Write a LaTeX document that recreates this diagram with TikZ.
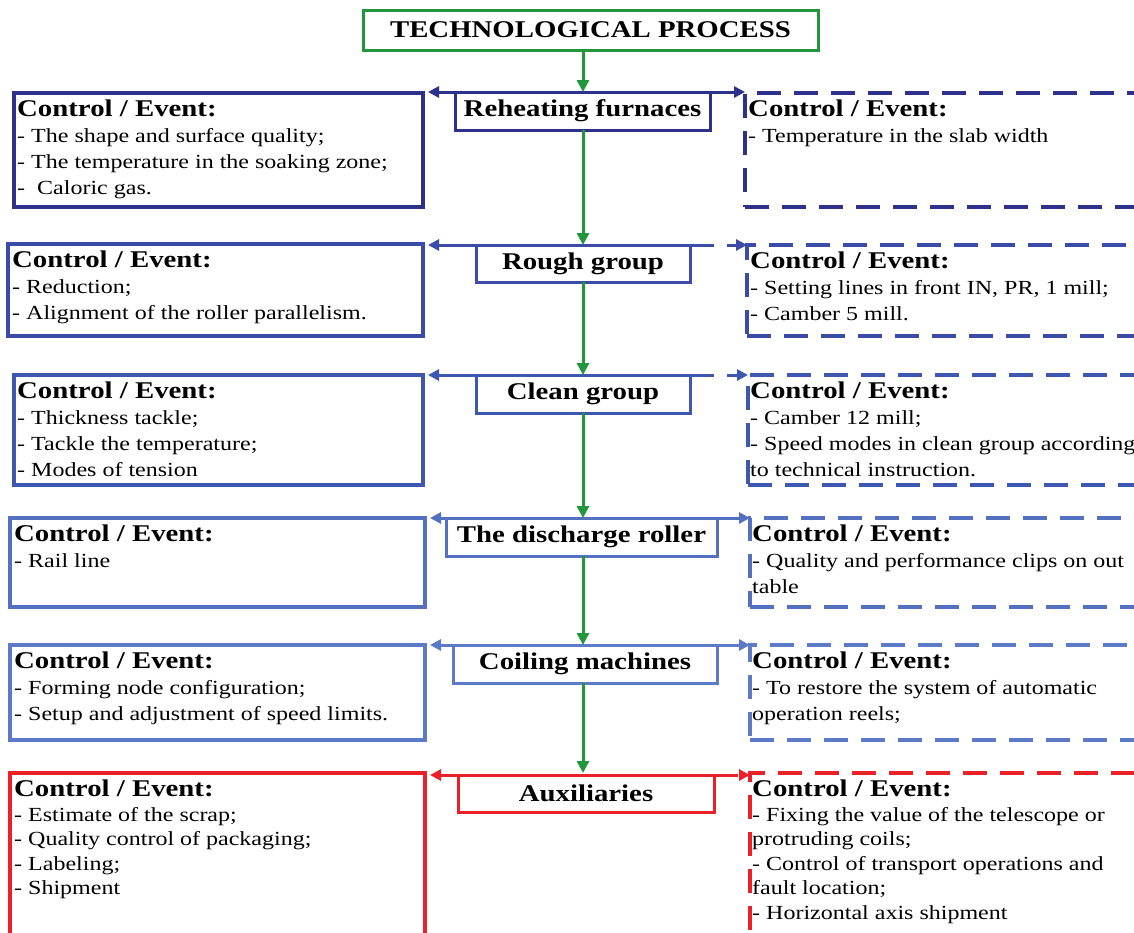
\documentclass[tikz,border=0pt]{standalone}
\usepackage{fontspec}
\setmainfont{Liberation Serif}[FakeStretch=1.2]
\usetikzlibrary{arrows.meta,fit,calc}
\definecolor{gr}{RGB}{34,150,60}
\definecolor{cA}{RGB}{46,49,140}
\definecolor{cB}{RGB}{58,76,168}
\definecolor{cC}{RGB}{62,88,178}
\definecolor{cD}{RGB}{84,112,192}
\definecolor{cE}{RGB}{92,122,198}
\definecolor{cF}{RGB}{236,32,40}
\newcommand{\ctrlhead}{{\fontsize{24}{26}\selectfont\bfseries Control / Event:}}
\begin{document}
\begin{tikzpicture}[x=1pt,y=-1pt,
 lbox/.style={draw=#1, line width=3.2pt, fill=white, inner sep=0pt, outer sep=0pt},
 rbox/.style={draw=#1, line width=3.2pt, dash pattern=on 24pt off 13pt, inner sep=0pt, outer sep=0pt},
 cbox/.style={draw=#1, line width=3pt, fill=white, inner sep=0pt, outer sep=0pt, font=\fontsize{24}{26}\selectfont\bfseries},
 txt/.style={anchor=north west, inner sep=0pt, align=left, font=\fontsize{20}{26}\selectfont},
 txtb/.style={txt, font=\fontsize{20}{24.5}\selectfont},
 flow/.style={draw=gr, line width=3pt, -{Triangle[length=12pt,width=12pt]}},
 lconn/.style={draw=#1, line width=3pt, -{Triangle[length=11pt,width=11pt]}},
 rconn/.style={draw=#1, line width=3pt, dash pattern=on 24pt off 13pt, -{Triangle[length=11pt,width=11pt]}},
]
\useasboundingbox (0,0) rectangle (1134,932);
\clip (0,0) rectangle (1134,932);
\coordinate (axis) at (583,0);

% title
\node[draw=gr, line width=3pt, inner sep=0pt, outer sep=0pt, minimum width=455pt, minimum height=40pt,
      font=\fontsize{24}{26}\selectfont\bfseries] (T) at (590.5,30) {TECHNOLOGICAL PROCESS};

% row 1
\node[lbox=cA, fit={(14,93) (423,207)}] (L1) {};
\node[rbox=cA, fit={(745,93) (1150,207)}] (R1) {};
\node[cbox=cA, minimum width=255pt, minimum height=38pt] (C1) at (582.5,111) {Reheating furnaces};
% row 2
\node[lbox=cB, fit={(8,244) (423,336)}] (L2) {};
\node[rbox=cB, fit={(747,245) (1150,336)}] (R2) {};
\node[cbox=cB, minimum width=214pt, minimum height=37pt] (C2) at (583,263.5) {Rough group};
% row 3
\node[lbox=cC, fit={(14,375) (423,485)}] (L3) {};
\node[rbox=cC, fit={(748,375) (1150,485)}] (R3) {};
\node[cbox=cC, minimum width=214pt, minimum height=38pt] (C3) at (583,394) {Clean group};
% row 4
\node[lbox=cD, fit={(10,518) (425,607)}] (L4) {};
\node[rbox=cD, fit={(750,518) (1150,607)}] (R4) {};
\node[cbox=cD, minimum width=271pt, minimum height=38pt] (C4) at (581.5,537) {The discharge roller};
% row 5
\node[lbox=cE, fit={(10,645) (425,740)}] (L5) {};
\node[rbox=cE, fit={(750,645) (1150,740)}] (R5) {};
\node[cbox=cE, minimum width=264pt, minimum height=38pt] (C5) at (585,664) {Coiling machines};
% row 6
\node[lbox=cF, fit={(10,773) (425,950)}] (L6) {};
\node[rbox=cF, fit={(750,773) (1150,950)}] (R6) {};
\node[cbox=cF, minimum width=256pt, minimum height=37pt] (C6) at (586,793.5) {Auxiliaries};

% side connectors
\foreach \i/\c in {1/cA,2/cB,3/cC,4/cD,5/cE,6/cF}{
  \draw[lconn=\c] (C\i.north west) -- ($(C\i.north west -| L\i.east)+(5,0)$);
  \draw[rconn=\c] (C\i.north east) -- (C\i.north east -| R\i.west);
}

% flow arrows
\draw[flow] (T.south -| axis) -- (C1.north -| axis);
\draw[flow] (C1.south -| axis) -- (C2.north -| axis);
\draw[flow] (C2.south -| axis) -- (C3.north -| axis);
\draw[flow] (C3.south -| axis) -- (C4.north -| axis);
\draw[flow] (C4.south -| axis) -- (C5.north -| axis);
\draw[flow] (C5.south -| axis) -- (L6.north -| axis);

% texts
\node[txt] (L1t) at ($(L1.north west)+(3,7)$) {\ctrlhead\\- The shape and surface quality;\\- The temperature in the soaking zone;\\-\ \ Caloric gas.};
\node[txt] (R1t) at ($(R1.north west)+(3,7)$) {\ctrlhead\\- Temperature in the slab width};
\node[txt] (L2t) at ($(L2.north west)+(4,7)$) {\ctrlhead\\- Reduction;\\- Alignment of the roller parallelism.};
\node[txt] (R2t) at ($(R2.north west)+(3,7)$) {\ctrlhead\\- Setting lines in front IN, PR, 1 mill;\\- Camber 5 mill.};
\node[txt] (L3t) at ($(L3.north west)+(3,7)$) {\ctrlhead\\- Thickness tackle;\\- Tackle the temperature;\\- Modes of tension};
\node[txt] (R3t) at ($(R3.north west)+(2,7)$) {\ctrlhead\\- Camber 12 mill;\\- Speed modes in clean group according\\to technical instruction.};
\node[txt] (L4t) at ($(L4.north west)+(4,7)$) {\ctrlhead\\- Rail line};
\node[txt] (R4t) at ($(R4.north west)+(2,7)$) {\ctrlhead\\- Quality and performance clips on out\\table};
\node[txt] (L5t) at ($(L5.north west)+(4,7)$) {\ctrlhead\\- Forming node configuration;\\- Setup and adjustment of speed limits.};
\node[txt] (R5t) at ($(R5.north west)+(2,7)$) {\ctrlhead\\- To restore the system of automatic\\operation reels;};
\node[txtb] (L6t) at ($(L6.north west)+(4,7)$) {\ctrlhead\\- Estimate of the scrap;\\- Quality control of packaging;\\- Labeling;\\- Shipment};
\node[txtb] (R6t) at ($(R6.north west)+(2,7)$) {\ctrlhead\\- Fixing the value of the telescope or\\protruding coils;\\- Control of transport operations and\\fault location;\\- Horizontal axis shipment};
\end{tikzpicture}
\end{document}
